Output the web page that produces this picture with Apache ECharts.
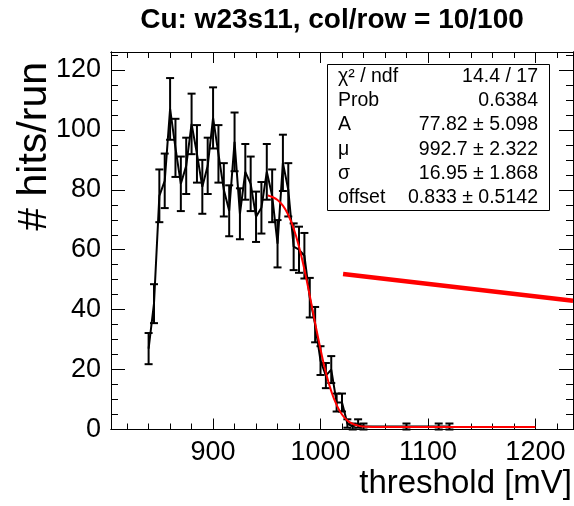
<!DOCTYPE html>
<html><head><meta charset="utf-8">
<script src="https://cdn.jsdelivr.net/npm/echarts@6/dist/echarts.min.js"></script>
<style>html,body{margin:0;padding:0;background:#fff}#c{width:574px;height:506px}</style>
</head><body><div id="c"></div>
<script>
// ---- data ----
const thresholds = [840,845,850,855,860,865,870,875,880,885,890,895,900,905,910,915,920,925,930,935,940,945,950,955,960,965,970,975,980,985,990,995,1000,1005,1010,1015,1020,1025,1030,1035,1040,1080,1110,1120];
const hits = [27,42,78,83,107,94,82,88,102,92,81,88,104,92,80,73,96,72,86,82,71,74,86,78,62,89,80,61,60,58,44,35,23,18,20,9,9,2,1,2,1,1,1,1];
const hitErrors = [5.2,6.5,8.8,9.1,10.3,9.7,9.1,9.4,10.1,9.6,9,9.4,10.2,9.6,8.9,8.5,9.8,8.5,9.3,9.1,8.4,8.6,9.3,8.8,7.9,9.4,8.9,7.8,7.7,7.6,6.6,5.9,4.8,4.2,4.5,3,3,1.4,1,1.4,1,1,1,1];
// fitted curve sampled as drawn
const fitX = [951,955,960,965,970,975,980,985,990,995,1000,1005,1010,1015,1020,1025,1030,1035,1040,1045,1050,1060,1200];
const fitY = [78.1,77.6,76.6,74.7,71.6,67.1,61.0,53.4,44.7,35.5,26.8,19.0,12.8,8.2,5.0,3.0,1.9,1.3,1.0,0.9,0.87,0.84,0.83];
// thick red line
const markX = [1021, 1235];
const markY = [51.9, 43.0];
// axes
const xMin = 805, xMax = 1235, yMin = 0, yMax = 126;
const xMajor = [900,1000,1100,1200];
const xMinor = [820,840,860,880,920,940,960,980,1020,1040,1060,1080,1120,1140,1160,1180,1220];
const yMajor = [0,20,40,60,80,100,120];
const yMinor = [5,10,15,25,30,35,45,50,55,65,70,75,85,90,95,105,110,115,125];
const titleText = 'Cu: w23s11, col/row = 10/100';
const xTitle = 'threshold [mV]';
const yTitle = '# hits/run';
const statsNames = ['χ² / ndf','Prob','A','μ','σ','offset'];
const statsValues = ['14.4 / 17','0.6384','77.82 ± 5.098','992.7 ± 2.322','16.95 ± 1.868','0.833 ± 0.5142'];

const FONT = 'Liberation Sans, Arial, Helvetica, sans-serif';
const chart = echarts.init(document.getElementById('c'), null, {renderer:'canvas'});
const plain = v => String(v);

function xAx(pos, ticks, len, labels) {
  return {
    type:'value', min:xMin, max:xMax, position:pos,
    axisLine:{show:true, onZero:false, lineStyle:{color:'#000', width:1}},
    axisTick:{show:true, inside:true, length:len, customValues:ticks, lineStyle:{color:'#000', width:1}},
    axisLabel:{show:labels, customValues:ticks, formatter:plain, color:'#000', fontSize:27, fontFamily:FONT, margin:10},
    splitLine:{show:false}
  };
}
function yAx(pos, ticks, len, labels) {
  return {
    type:'value', min:yMin, max:yMax, position:pos,
    axisLine:{show:true, onZero:false, lineStyle:{color:'#000', width:1}},
    axisTick:{show:true, inside:true, length:len, customValues:ticks, lineStyle:{color:'#000', width:1}},
    axisLabel:{show:labels, customValues:ticks, formatter:plain, color:'#000', fontSize:27, fontFamily:FONT, margin:10},
    splitLine:{show:false}
  };
}

const pts = thresholds.map((x,i)=>[x,hits[i]]);
const errData = thresholds.map((x,i)=>[x,hits[i],hitErrors[i]]);

const statsTop = 64, statsLeft = 327, statsRight = 549, rowH = 24.3;
const graphics = [
  {type:'text', x:332, y:20, style:{text:titleText, font:'bold 28px '+FONT, fill:'#000', textAlign:'center', textVerticalAlign:'middle'}},
  {type:'text', x:572, y:484, style:{text:xTitle, font:'33px '+FONT, fill:'#000', textAlign:'right', textVerticalAlign:'middle'}},
  {type:'text', x:35, y:62, rotation:Math.PI/2, style:{text:yTitle, font:'41px '+FONT, fill:'#000', textAlign:'right', textVerticalAlign:'middle'}},
  {type:'rect', shape:{x:statsLeft+0.5, y:statsTop+0.5, width:statsRight-statsLeft, height:146}, style:{fill:'#fff', stroke:'#000', lineWidth:1}, z:10}
];
statsNames.forEach((n,i)=>{
  const cy = statsTop + 12.5 + rowH*i;
  graphics.push({type:'text', x:338, y:cy, z:11, style:{text:n, font:'19.5px '+FONT, fill:'#000', textAlign:'left', textVerticalAlign:'middle'}});
  graphics.push({type:'text', x:538, y:cy, z:11, style:{text:statsValues[i], font:'19.5px '+FONT, fill:'#000', textAlign:'right', textVerticalAlign:'middle'}});
});

chart.setOption({
  animation:false,
  backgroundColor:'#fff',
  grid:{left:111, right:1, top:52, bottom:76.5, containLabel:false},
  xAxis:[xAx('bottom',xMajor,11,true), xAx('bottom',xMinor,6,false), xAx('top',xMajor,11,false), xAx('top',xMinor,6,false)],
  yAxis:[yAx('left',yMajor,14,true), yAx('left',yMinor,7,false), yAx('right',yMajor,14,false), yAx('right',yMinor,7,false)],
  graphic:graphics,
  series:[
    {type:'custom', xAxisIndex:0, yAxisIndex:0, data:errData, z:3, silent:true,
     renderItem:function(params, api){
       const x = api.value(0), v = api.value(1), e = api.value(2);
       const top = api.coord([x, v+e]), bot = api.coord([x, v-e]);
       const hw = 4;
       return {type:'group', children:[
         {type:'line', shape:{x1:top[0], y1:top[1], x2:bot[0], y2:bot[1]}, style:{stroke:'#000', lineWidth:2}},
         {type:'line', shape:{x1:top[0]-hw, y1:top[1], x2:top[0]+hw, y2:top[1]}, style:{stroke:'#000', lineWidth:2}},
         {type:'line', shape:{x1:bot[0]-hw, y1:bot[1], x2:bot[0]+hw, y2:bot[1]}, style:{stroke:'#000', lineWidth:2}}
       ]};
     }},
    {type:'line', xAxisIndex:0, yAxisIndex:0, data:pts, symbol:'none', z:4, lineStyle:{color:'#000', width:2}},
    {type:'line', xAxisIndex:0, yAxisIndex:0, data:fitX.map((x,i)=>[x,fitY[i]]), symbol:'none', smooth:true, z:5, lineStyle:{color:'#ff0000', width:2}},
    {type:'line', xAxisIndex:0, yAxisIndex:0, data:markX.map((x,i)=>[x,markY[i]]), symbol:'none', z:6, lineStyle:{color:'#ff0000', width:4.5}}
  ]
});
</script></body></html>
